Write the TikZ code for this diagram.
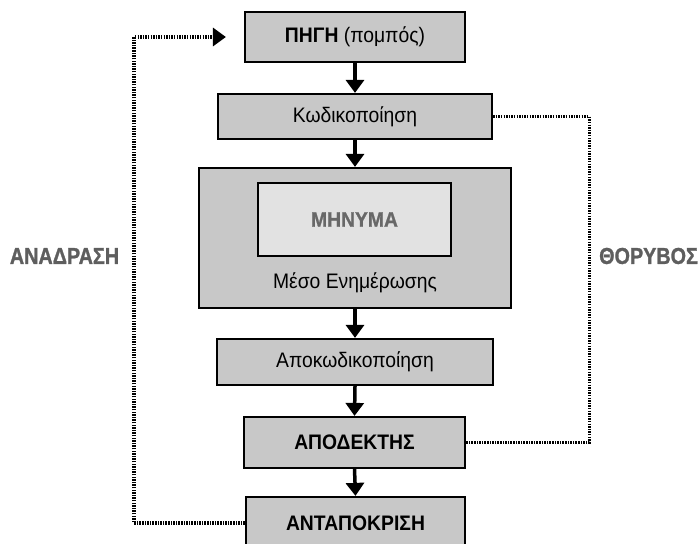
\documentclass[tikz,border=0pt]{standalone}
\usepackage{fontspec}
\setmainfont{Liberation Sans}[FakeStretch=0.92,BoldFont={Liberation Sans Bold},BoldFeatures={FakeStretch=0.92}]
\newfontfamily\labfont{Liberation Sans Bold}[FakeStretch=0.86,FakeBold=1.2]
\newfontfamily\msgfont{Liberation Sans Bold}[FakeStretch=0.92,FakeBold=1]
\usetikzlibrary{arrows.meta}
\definecolor{boxfill}{HTML}{C8C8C8}
\definecolor{innerfill}{HTML}{E2E2E2}
\definecolor{labgray}{HTML}{5E5E5E}
\definecolor{msggray}{HTML}{686868}
\begin{document}
\begin{tikzpicture}[x=1pt,y=-1pt,
  box/.style={draw=black,line width=2.2pt,fill=boxfill,inner sep=0pt,anchor=center,
    font=\fontsize{21}{24}\selectfont},
  flow/.style={line width=3.5pt,-{Triangle[width=18pt,length=13pt]}},
  dotline/.style={line width=3.2pt,dash pattern=on 1.5pt off 1.1pt},
  lab/.style={font=\labfont\fontsize{23}{26}\selectfont,text=labgray}]
\clip (0,0) rectangle (700,543);
\fill[white] (0,0) rectangle (700,543);
\node[box,minimum width=220pt,minimum height=50pt] (pigi) at (355,37) {\textbf{ΠΗΓΗ} (πομπός)};
\node[box,minimum width=274pt,minimum height=45pt] (kod) at (355,116.5) {Κωδικοποίηση};
\node[box,minimum width=312pt,minimum height=140pt] (meso) at (355,238) {};
\node[box,fill=innerfill,minimum width=193pt,minimum height=73pt,text=msggray,font=\msgfont\fontsize{21}{24}\selectfont] (minima) at (354.5,219.5) {ΜΗΝΥΜΑ};
\node[font=\fontsize{21}{24}\selectfont,inner sep=0pt] (mesolab) at (355,283) {Μέσο Ενημέρωσης};
\node[box,minimum width=276pt,minimum height=46pt] (apokod) at (355,362) {Αποκωδικοποίηση};
\node[box,minimum width=221pt,minimum height=51pt] (apod) at (354.5,442.5) {\textbf{ΑΠΟΔΕΚΤΗΣ}};
\node[box,minimum width=219pt,minimum height=52pt] (antap) at (355.5,523) {\textbf{ΑΝΤΑΠΟΚΡΙΣΗ}};
\draw[flow] (pigi.south) -- (kod.north);
\draw[flow] (kod.south) -- (meso.north);
\draw[flow] (meso.south) -- (apokod.north);
\draw[flow] (apokod.south) -- (apod.north);
\draw[flow] (apod.south) -- (antap.north);
\draw[dotline,-{Triangle[width=18pt,length=13pt]},shorten >=18pt] (antap.west) -- ++(-111,0) |- (pigi.west);
\draw[dotline] (kod.east) -- ++(96,0) |- (apod.east);
\node[lab] (anadr) at (64.5,256) {ΑΝΑΔΡΑΣΗ};
\node[lab,anchor=west,inner sep=0pt] (thor) at (599,256) {ΘΟΡΥΒΟΣ};
\end{tikzpicture}
\end{document}
